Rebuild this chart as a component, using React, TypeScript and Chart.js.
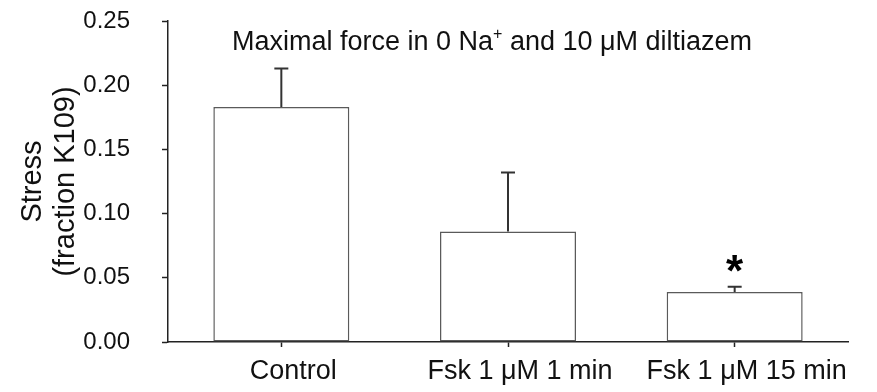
import React, { useEffect, useRef } from "react";
import { Chart, registerables } from "chart.js";

Chart.register(...registerables);

const categories = ["Control", "Fsk 1 μM 1 min", "Fsk 1 μM 15 min"];
const meanStress = [0.183, 0.086, 0.039];
const errorUp = [0.030, 0.046, 0.004];
const significance = ["", "", "*"];
const yMin = 0;
const yMax = 0.25;
const yStep = 0.05;
const yTitle = ["Stress", "(fraction K109)"];
const titleMain = "Maximal force in 0 Na";
const titleSup = "+";
const titleRest = " and 10 μM diltiazem";

const FONT = "'Liberation Sans', Arial, Helvetica, sans-serif";
const TEXT = "#111111";
const AXIS = "#222222";

const overlayPlugin = {
  id: "overlay",
  afterDatasetsDraw(chart: any) {
    const ctx = chart.ctx;
    const meta = chart.getDatasetMeta(0);
    const y = chart.scales.y;
    ctx.save();
    meta.data.forEach((bar: any, i: number) => {
      const x = bar.x;
      const top = y.getPixelForValue(meanStress[i]);
      const eTop = y.getPixelForValue(meanStress[i] + errorUp[i]);
      ctx.strokeStyle = "#333";
      ctx.lineWidth = 2;
      ctx.beginPath();
      ctx.moveTo(x, top);
      ctx.lineTo(x, eTop);
      ctx.moveTo(x - 7, eTop);
      ctx.lineTo(x + 7, eTop);
      ctx.stroke();
      if (significance[i]) {
        ctx.fillStyle = "#000";
        ctx.font = `bold 44px ${FONT}`;
        ctx.textAlign = "center";
        ctx.textBaseline = "alphabetic";
        ctx.fillText(significance[i], x, eTop - 1);
      }
    });
    ctx.fillStyle = TEXT;
    ctx.textBaseline = "alphabetic";
    ctx.textAlign = "left";
    const mainFont = `27px ${FONT}`;
    const supFont = `16px ${FONT}`;
    ctx.font = mainFont;
    const w1 = ctx.measureText(titleMain).width;
    const w3 = ctx.measureText(titleRest).width;
    ctx.font = supFont;
    const w2 = ctx.measureText(titleSup).width;
    const total = w1 + w2 + w3;
    const cx = 492;
    const x0 = cx - total / 2;
    const base = 50;
    ctx.font = mainFont;
    ctx.fillText(titleMain, x0, base);
    ctx.font = supFont;
    ctx.fillText(titleSup, x0 + w1, base - 11);
    ctx.font = mainFont;
    ctx.fillText(titleRest, x0 + w1 + w2, base);
    ctx.restore();
  },
};

function App() {
  const ref = useRef<HTMLCanvasElement | null>(null);
  useEffect(() => {
    document.body.style.margin = "0";
    if (!ref.current) return;
    const chart = new Chart(ref.current, {
      type: "bar",
      data: {
        labels: categories,
        datasets: [
          {
            data: meanStress,
            backgroundColor: "#ffffff",
            borderColor: "#5a5a5a",
            borderWidth: 1.5,
            borderSkipped: false,
            barPercentage: 0.6,
            categoryPercentage: 1,
          },
        ],
      },
      options: {
        animation: false,
        responsive: false,
        devicePixelRatio: 1,
        layout: { padding: { top: 21, right: 29, left: 0, bottom: 0 } },
        plugins: { legend: { display: false }, tooltip: { enabled: false }, title: { display: false } },
        scales: {
          x: {
            offset: true,
            grid: { offset: false, drawOnChartArea: false, drawTicks: true, tickLength: 5, color: AXIS, tickWidth: 1.5 },
            border: { display: true, color: AXIS, width: 1.5 },
            ticks: { autoSkip: false, maxRotation: 0, color: TEXT, font: { family: FONT, size: 27 }, padding: 8, labelOffset: 12 },
            afterFit: (s: any) => { s.height = 50; s.paddingLeft = 0; s.paddingRight = 0; },
          },
          y: {
            min: yMin,
            max: yMax,
            grid: { drawOnChartArea: false, drawTicks: true, tickLength: 6, color: AXIS, tickWidth: 1.5 },
            border: { display: true, color: AXIS, width: 1.5 },
            ticks: {
              stepSize: yStep,
              color: TEXT,
              font: { family: FONT, size: 24 },
              padding: 32,
              callback: (v: any) => Number(v).toFixed(2),
            },
            title: {
              display: true,
              text: yTitle,
              color: TEXT,
              font: { family: FONT, size: 29, lineHeight: 1.15 },
              padding: { top: 16, bottom: 0 },
            },
            afterFit: (s: any) => { s.width = 168; s.paddingTop = 0; s.paddingBottom = 0; },
          },
        },
      },
      plugins: [overlayPlugin],
    });
    return () => chart.destroy();
  }, []);
  return (
    <div style={{ position: "absolute", left: 0, top: 0, width: 877, height: 392, background: "#fff" }}>
      <canvas ref={ref} width={877} height={392} style={{ display: "block" }} />
    </div>
  );
}

export default App;
